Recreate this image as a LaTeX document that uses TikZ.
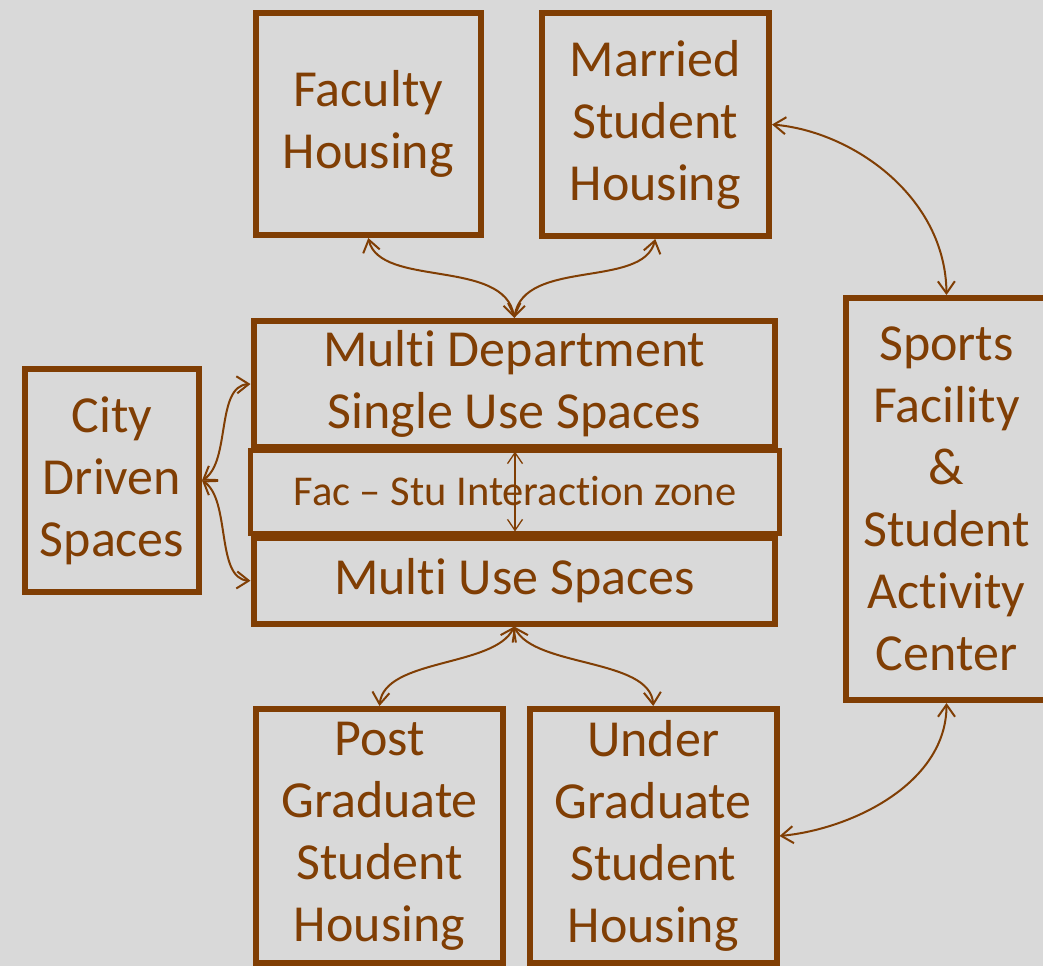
\documentclass[tikz,border=0pt]{standalone}
\usepackage{fontspec}
\setmainfont{Carlito}[Ligatures={NoCommon}]
\usetikzlibrary{arrows.meta,calc}
\definecolor{brownline}{RGB}{128,62,4}
\definecolor{paper}{RGB}{217,217,217}
\begin{document}
\begin{tikzpicture}[x=1pt,y=-1pt,
  box/.style={rectangle, draw=brownline, line width=6pt, text=brownline,
    inner sep=0pt, align=center, font=\fontsize{52}{62}\selectfont},
  zonebox/.style={box, line width=5pt, font=\fontsize{42.5}{50}\selectfont},
  link/.style={draw=brownline, line width=2pt,
    {Straight Barb[length=12pt,width=17pt]}-{Straight Barb[length=12pt,width=17pt]}},
  thinlink/.style={draw=brownline, line width=1.3pt,
    {Straight Barb[length=11pt,width=15pt]}-{Straight Barb[length=11pt,width=15pt]}}]
\fill[paper] (0,0) rectangle (1043,966);
\useasboundingbox (0,0) rectangle (1043,966);
\clip (0,0) rectangle (1043,966);

% housing blocks on top
\node[box, minimum width=224.5, minimum height=222] (fac) at (368.25,124) {Faculty\\Housing};
\node[box, minimum width=227.5, minimum height=223] (mar) at (655.25,124.5) {Married\\Student\\Housing};

% central stack
\node[box, minimum width=521.5, minimum height=126] (mds) at (514.25,384) {Multi Department\\Single Use Spaces};
\node[box, minimum width=521.5, minimum height=85.5] (mus) at (514.25,580.75) {Multi Use Spaces};
\node[zonebox, minimum width=529, minimum height=83] (fsi) at (515,491.5) {Fac -- Stu Interaction zone};

% side blocks
\node[box, minimum width=174, minimum height=223] (city) at (112,480.5) {City\\Driven\\Spaces};
\node[box, minimum width=201, minimum height=402] (sports) at (946.5,499) {Sports\\Facility\\\&\\Student\\Activity\\Center};

% student housing at the bottom
\node[box, minimum width=247, minimum height=254] (post) at (379.5,836) {Post\\Graduate\\Student\\Housing};
\node[box, minimum width=246.5, minimum height=254] (under) at (653.25,836) {Under\\Graduate\\Student\\Housing};

% connectors
\draw[link] (fac.south) .. controls ($(fac.south)+(12,50)$) and ($(mds.north)+(-10,-60)$) .. (mds.north);
\draw[link] (mar.south) .. controls ($(mar.south)+(-12,50)$) and ($(mds.north)+(10,-60)$) .. (mds.north);

\draw[link] (city.east) .. controls ($(city.east)+(29,-19)$) and ($(mds.west)+(-35,2)$) .. (mds.west);
\draw[link] (city.east) .. controls ($(city.east)+(29,19)$) and ($(mus.west)+(-35,-2)$) .. (mus.west);

\draw[thinlink] ([yshift=-4pt]fsi.north) -- ([yshift=4pt]fsi.south);

\draw[link] (mus.south) .. controls ($(mus.south)+(-20,41)$) and ($(post.north)+(5,-48)$) .. (post.north);
\draw[link] (mus.south) .. controls ($(mus.south)+(20,41)$) and ($(under.north)+(-3,-48)$) .. (under.north);

\draw[link] (mar.east) .. controls ($(mar.east)+(81,7)$) and ($(sports.north)+(-1,-98)$) .. (sports.north);
\draw[link] (under.east) .. controls ($(under.east)+(73,-7)$) and ($(sports.south)+(0,80)$) .. (sports.south);
\end{tikzpicture}
\end{document}
